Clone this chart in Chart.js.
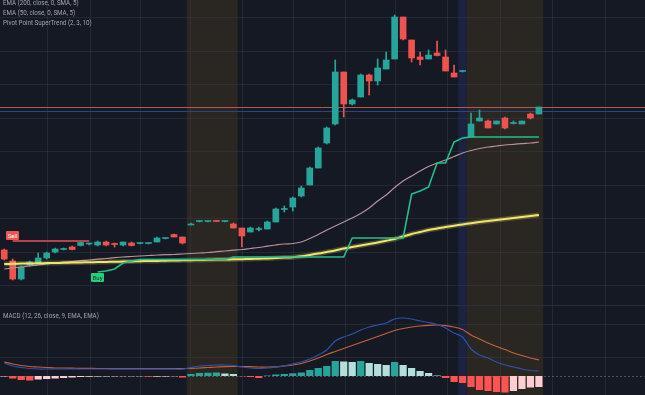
<!DOCTYPE html>
<html>
<head>
<meta charset="utf-8">
<script src="https://cdn.jsdelivr.net/npm/chart.js@4"></script>
<style>
  html, body { margin: 0; padding: 0; background: #151924; }
  #wrap { position: relative; width: 645px; height: 395px; overflow: hidden; }
  canvas { position: absolute; left: 0; }
  #priceChart { top: 0; }
  #macdChart { top: 305px; }
  .legend { position: absolute; left: 3px; font-family: Roboto, 'Liberation Sans', sans-serif; font-size: 7.5px;
            line-height: 8px; color: #a2a5ae; white-space: nowrap; transform-origin: 0 0; transform: scaleX(0.83); }
  .tag { position: absolute; font-family: Roboto, 'Liberation Sans', sans-serif; font-size: 6px; line-height: 9px;
         padding: 0 2px; border-radius: 1px; white-space: nowrap; }
</style>
</head>
<body>
<div id="wrap">
  <canvas id="priceChart" width="645" height="305"></canvas>
  <canvas id="macdChart" width="645" height="90"></canvas>
  <div class="legend" style="top:-1px">EMA (200, close, 0, SMA, 5)</div>
  <div class="legend" style="top:9px">EMA (50, close, 0, SMA, 5)</div>
  <div class="legend" style="top:19px">Pivot Point SuperTrend (2, 3, 10)</div>
  <div class="legend" style="top:312px">MACD (12, 26, close, 9, EMA, EMA)</div>
</div>
<script>
// slots on the time axis (64 bars drawn, the rest is empty space on the right)
const slotLabels = Array.from({ length: 76 }, (_, i) => 'Bar ' + (i + 1));

const open = [55,44,26,40,41,47,53,55.5,58,59.5, 61,60,63,61,60,62,61.5,61.5,63,66.5,
  70.5,68,80,83.5,83.5,84,83.5,81,77,73, 75.5,76,83,95.5,98,109,120,137,162,181,
  233,201,208,230,224,236,246,288,265,248, 246,252,248,232,233.5,168,184,184,181,187,
  181.5,181,191,191];
const high = [56,46,39,44,52,53,57,57,59,63, 62,64,64,62,63,63,62,62,68,67,
  71,68,82,84,84,84.5,84,82,77,78, 78,84,97,99,108,119,138,158,178,245,
  233,206,231,231,246,253,290,288,265,253, 255,264,255,240,234,192,195,185,184,188,
  184,184,192,198];
const low = [45,25,25,39,41,46,52,55,55,59, 60,59,59,58,59,59,61,61,63,66,
  68,61,80,83,83,83.5,83,77,58,73, 74,76,83,93,94,108,120,137,161,180,
  188,200,208,210,220,236,246,265,243,240, 246,249,234,228,233,168,184,177,181,176,
  181,181,186,191];
const close = [46,26,38,43,47,52,56,56,55.5,62.5, 61.5,63,60,60.5,63,59.5,62,62,67,67,
  68,62,81,84,84,83.5,84,77,69,77, 76,83,96,96,107,117,137,157,177,233,
  201,205,230,224,237,245,288,266,247,245.5, 250,249.5,234,228,234,181,187,177,184,177,
  182,184,187,198];

const ema200 = [41,41.2,41.4,41.5,41.7,41.9,42,42.2,42.4,42.6, 42.7,42.9,43.1,43.3,43.4,43.6,43.8,44,44.1,44.3,
  44.5,44.7,44.8,45,45.2,45.4,45.5,45.7,45.8,46, 46.3,46.6,47,47.4,47.8,48.7,50,51.4,53,54.6,
  56.4,58,59.5,61,62.5,64.2,66,68.5,71,73, 75,76.5,78,79.3,80.5,81.8,83,84,85,86,
  87,88,89,90];
const ema50 = [36,37,38,39,40,41,42,42.8,43.5,44.3, 45,45.8,46.5,47.3,48,48.5,49,49.5,50,50.3,
  50.5,51,51.5,52,52.5,53.3,54,54.8,55.5,56.5, 57.5,58.8,60,61,61.5,63,66.5,70.5,75,79,
  83,87,91.5,97,104,110,117.5,124,129,134, 138.5,142,145,148.5,152,154.5,156.5,158,159,160,
  160.7,161.4,162,163];

const stDown = [null,64,64,64,64,64,64,64,64,64, 64];
const stUp = [null,null,null,null,null,null,null,null,null,null, null,33,34,36,42,44,45.5,45.5,45.5,45.5,
  45.5,45.5,45.5,45.5,45.5,45.5,45.5,48,48,48, 48,48,48,48,48,48,48,48,48,48,
  48,67,67,67,67,67,67,67,111,114, 118,142,142,163,167,168,168,168,168,168,
  168,168,168,168];
const signals = [{ slot: 1, text: 'Sell' }, { slot: 11, text: 'Buy' }];

const macdLine = [13,10,8.5,7.5,7,7,7,7,7,7, 7,7,7,6.8,6.8,6.8,6.8,6.8,6.8,6.8,
  6.8,6.8,8.5,10,10.5,11,11,10.5,9,8, 7.5,8,9,10,12,14,17,21,26,35,
  39,42,46,49,51,53,57,58,57,55, 53.5,51.5,48,43,39,27,21,18,14,11,
  9,7,5.5,5];
const signalLine = [14,12,10.5,9.5,9,8.5,8,8,7.8,7.7, 7.6,7.5,7.5,7.5,7.5,7.5,7.5,7.5,7.5,7.5,
  7.5,7.5,7.7,8,8.5,9,9.3,9.5,9.5,9.3, 9,9,9.2,10,11,12.5,15,18,21.5,24.5,
  27.5,30.5,33.5,36.5,39.5,42.5,45.5,47.5,49,50, 50.7,51,50.3,49,46.5,41,37,33,29.5,26.5,
  23,20.5,18,16];
const histogram = [-0.5,-2.5,-4,-4.5,-3.5,-3,-2.5,-2,-1.5,-1, -0.8,-0.6,-0.5,-0.4,-0.3,-0.3,-0.3,-0.8,-0.7,-0.6,
  -0.3,-1.5,2,3,3.3,3.5,2.5,2,-0.3,-1, -2,0.5,1.5,2,2.7,3.5,6,8,10,15,
  14.5,14,15,13,12,11,14,11,8,5, 3,0.5,-2,-6,-7,-11,-14,-15,-16,-16.5,
  -15,-13,-11.5,-11];

// session backgrounds (slot ranges) and grid levels
const offSessions = [[22, 27], [55, 63]];
const preSessions = [[54, 54]];
const timeGrid = [5, 10.1, 16, 21.9, 28, 34, 40.1, 46, 52.2, 58.4, 64.5, 70.8];
const priceGrid = [20, 53.5, 87, 120.5, 154, 187.5, 221, 254.5, 288];
const macdGrid = [19, 52];
const lastClose = close[close.length - 1];
const refLevel = 194.5;

const panePlugin = {
  id: 'pane',
  beforeDraw(chart, args, opts) {
    const { ctx, scales: { x, y } } = chart;
    const h = chart.height, w = chart.width;
    ctx.save();
    ctx.fillStyle = '#151924';
    ctx.fillRect(0, 0, w, h);
    const band = (r, color) => {
      const x0 = x.getPixelForValue(r[0] - 0.5), x1 = x.getPixelForValue(r[1] + 0.5);
      ctx.fillStyle = color;
      ctx.fillRect(x0, 0, x1 - x0, h);
    };
    offSessions.forEach(r => band(r, '#2a2622'));
    preSessions.forEach(r => band(r, '#1b2340'));
    ctx.strokeStyle = 'rgba(54,60,78,0.45)';
    ctx.lineWidth = 1;
    timeGrid.forEach(v => {
      const px = Math.round(x.getPixelForValue(v)) + 0.5;
      ctx.beginPath(); ctx.moveTo(px, 0); ctx.lineTo(px, h); ctx.stroke();
    });
    opts.grid.forEach(v => {
      const py = Math.round(y.getPixelForValue(v)) + 0.5;
      ctx.beginPath(); ctx.moveTo(0, py); ctx.lineTo(w, py); ctx.stroke();
    });
    if (opts.separator) {
      ctx.strokeStyle = '#2a2e3b';
      ctx.beginPath(); ctx.moveTo(0, 0.5); ctx.lineTo(w, 0.5); ctx.stroke();
    }
    (opts.levels || []).forEach(l => {
      const py = Math.round(y.getPixelForValue(l.value)) + 0.5;
      ctx.strokeStyle = l.color;
      ctx.setLineDash(l.dash || []);
      ctx.beginPath(); ctx.moveTo(0, py); ctx.lineTo(w, py); ctx.stroke();
    });
    ctx.restore();
  }
};

const up = '#26a69a', down = '#ef5350';
const candleColors = close.map((c, i) => c >= open[i] ? up : down);
const lineBase = { type: 'line', pointRadius: 0, fill: false, spanGaps: false };

const baseOptions = (yMin, yMax, pane) => ({
  responsive: false,
  animation: false,
  events: [],
  layout: { padding: 0 },
  scales: {
    x: { display: false, offset: true },
    y: { display: false, min: yMin, max: yMax }
  },
  plugins: { legend: { display: false }, tooltip: { enabled: false }, pane }
});

const priceChart = new Chart(document.getElementById('priceChart'), {
  type: 'bar',
  data: {
    labels: slotLabels,
    datasets: [
      { ...lineBase, data: stUp, borderColor: '#22c08a', borderWidth: 1.6, tension: 0, order: 0 },
      { ...lineBase, data: stDown, borderColor: '#ef4f5c', borderWidth: 1.6, tension: 0, order: 0 },
      { ...lineBase, data: ema200, borderColor: '#f1e66c', borderWidth: 2, tension: 0.3, order: 1 },
      { ...lineBase, data: ema200, borderColor: 'rgba(240,228,100,0.22)', borderWidth: 5, tension: 0.3, order: 1 },
      { ...lineBase, data: ema50, borderColor: '#b8929a', borderWidth: 1.2, tension: 0.3, order: 1 },
      { data: open.map((o, i) => [Math.min(o, close[i]), Math.max(o, close[i])]),
        backgroundColor: candleColors, barThickness: 6, minBarLength: 1, grouped: false, order: 2 },
      { data: low.map((l, i) => [l, high[i]]),
        backgroundColor: candleColors, barThickness: 1, grouped: false, order: 3 }
    ]
  },
  options: baseOptions(0, 305, {
    grid: priceGrid,
    levels: [{ value: refLevel, color: '#34417e' }, { value: lastClose, color: '#b05a4c' }]
  }),
  plugins: [panePlugin]
});

const histColors = histogram.map((v, i) => {
  const prev = i > 0 ? histogram[i - 1] : v;
  if (v >= 0) return v > prev ? '#26a69a' : '#b2dfdb';
  return v < prev ? '#ff5252' : '#ffcdd2';
});

new Chart(document.getElementById('macdChart'), {
  type: 'bar',
  data: {
    labels: slotLabels,
    datasets: [
      { ...lineBase, data: macdLine, borderColor: '#3050a8', borderWidth: 1.2, tension: 0.3, order: 0 },
      { ...lineBase, data: signalLine, borderColor: '#c4613c', borderWidth: 1.2, tension: 0.3, order: 0 },
      { data: histogram, backgroundColor: histColors, barPercentage: 0.85, categoryPercentage: 1, order: 1 }
    ]
  },
  options: baseOptions(-19, 71, {
    grid: macdGrid,
    separator: true,
    levels: [{ value: 0, color: 'rgba(120,123,134,0.55)', dash: [2, 2] }]
  }),
  plugins: [panePlugin]
});

// Sell / Buy tags sit on the SuperTrend flip points
const wrap = document.getElementById('wrap');
const { x: xs, y: ys } = priceChart.scales;
signals.forEach(s => {
  const el = document.createElement('div');
  el.className = 'tag';
  el.textContent = s.text;
  const cx = xs.getPixelForValue(s.slot);
  if (s.text === 'Sell') {
    el.style.background = '#ef5350';
    el.style.color = '#ffffff';
    wrap.appendChild(el);
    el.style.left = (cx - el.offsetWidth / 2) + 'px';
    el.style.top = (ys.getPixelForValue(stDown[s.slot]) - 1 - el.offsetHeight) + 'px';
  } else {
    el.style.background = '#27cf7a';
    el.style.color = '#0d3b22';
    wrap.appendChild(el);
    el.style.left = (cx - el.offsetWidth / 2) + 'px';
    el.style.top = (ys.getPixelForValue(stUp[s.slot]) + 1) + 'px';
  }
});
</script>
</body>
</html>
